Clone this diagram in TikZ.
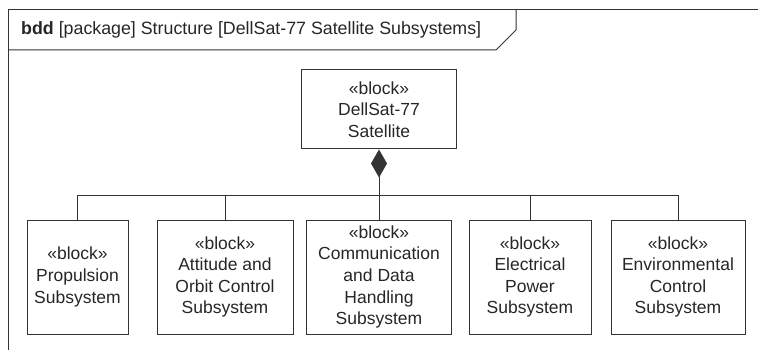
\documentclass[tikz,border=0pt]{standalone}
\usepackage{fontspec}
\setmainfont{Liberation Sans}
\usetikzlibrary{arrows.meta}

\tikzset{
  blockbox/.style={draw=black!80, line width=1pt, align=center, inner sep=2pt,
    font=\fontsize{17.5}{21.6}\selectfont, text=black!85},
  wire/.style={draw=black!80, line width=1pt},
}

\begin{document}
\begin{tikzpicture}[x=1pt,y=-1pt]
  \useasboundingbox (0,0) rectangle (758,350);
  % frame and its name tab
  \draw[wire] (758,10) -- (8,10) -- (8,350);
  \draw[wire] (8,50) -- (496,50) -- (516,30) -- (516,10);
  \node[anchor=base west, inner sep=0pt, font=\fontsize{17.8}{21}\selectfont, text=black!85]
    (title) at (21,35) {\textbf{bdd} [package] Structure [DellSat-77 Satellite Subsystems]};

  % the whole and its parts
  \node[blockbox, minimum width=155pt, minimum height=79pt] (sat) at (379,109.5)
    {«block»\\DellSat-77\\Satellite};
  \node[blockbox, minimum width=101pt, minimum height=114pt] (prop) at (77.5,277)
    {«block»\\Propulsion\\Subsystem};
  \node[blockbox, minimum width=136pt, minimum height=114pt] (aocs) at (225,277)
    {«block»\\Attitude and\\Orbit Control\\Subsystem};
  \node[blockbox, minimum width=145pt, minimum height=114pt] (cdhs) at (379,277)
    {«block»\\Communication\\and Data\\Handling\\Subsystem};
  \node[blockbox, minimum width=122pt, minimum height=114pt] (eps) at (530,277)
    {«block»\\Electrical\\Power\\Subsystem};
  \node[blockbox, minimum width=134pt, minimum height=114pt] (ecs) at (678,277)
    {«block»\\Environmental\\Control\\Subsystem};

  % composition tree
  \coordinate (bus) at (0,195);
  \draw[wire, {Diamond[length=28pt,width=16pt]}-] (sat.south) -- (cdhs.north);
  \draw[wire] (prop.north |- bus) -- (ecs.north |- bus);
  \foreach \p in {prop,aocs,eps,ecs}
    \draw[wire] (\p.north) -- (\p.north |- bus);
\end{tikzpicture}
\end{document}
